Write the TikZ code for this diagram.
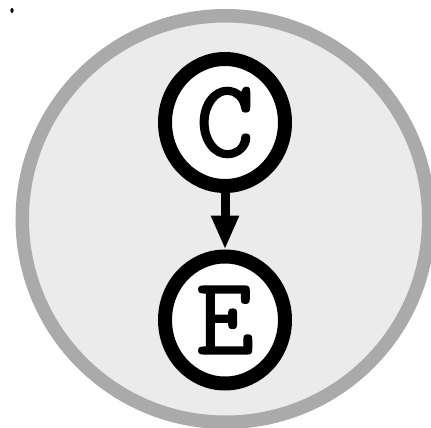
\documentclass[tikz,border=0pt]{standalone}
\usepackage{fontspec}
\usetikzlibrary{shapes.geometric,arrows.meta}
\newfontfamily\heavytt{lmmono10-regular.otf}[FakeBold=1.2]
\definecolor{ringgray}{HTML}{AAAAAA}
\definecolor{fillgray}{HTML}{EBEBEB}
\tikzset{
  varnode/.style={ellipse, draw=black, fill=white, line width=14pt,
    minimum width=120pt, minimum height=127pt, inner sep=0pt,
    font=\fontsize{111}{111}\selectfont\heavytt},
  causal/.style={line width=9pt, -{Triangle[width=26pt,length=34pt]}}
}
\begin{document}
\begin{tikzpicture}[x=1pt,y=-1pt]
\useasboundingbox (0,0) rectangle (431,428);
\clip (0,0) rectangle (431,428);
\fill[white] (0,0) rectangle (431,428);
\draw[draw=ringgray, fill=fillgray, line width=13.5pt] (225.5,219) circle (203.25);
\fill[black] (12,10.5) ellipse (1.6 and 2.5);
\node[varnode] (C) at (225,122.5) {C};
\node[varnode] (E) at (225,320) {E};
\draw[causal] (C) -- (E);
\end{tikzpicture}
\end{document}
